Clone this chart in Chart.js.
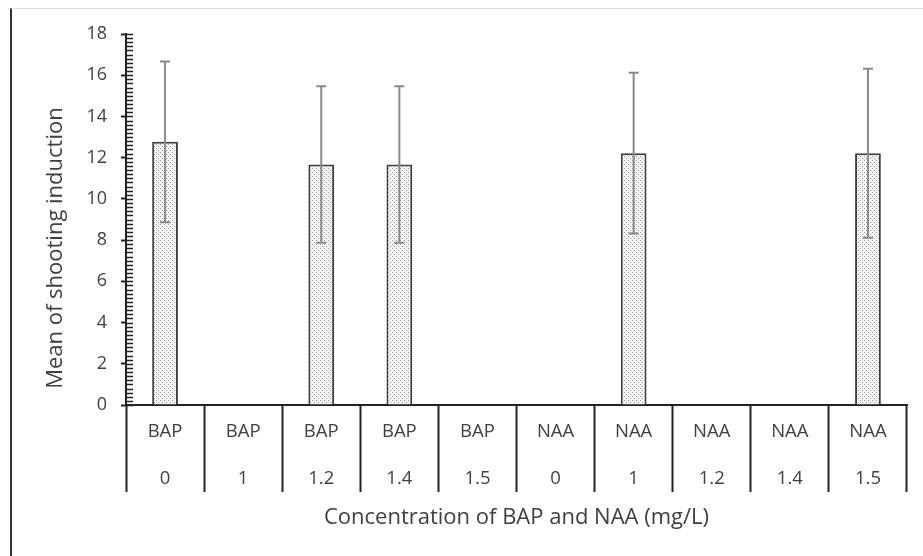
<!DOCTYPE html>
<html>
<head>
<meta charset="utf-8">
<script src="https://cdn.jsdelivr.net/npm/chart.js@4/dist/chart.umd.min.js"></script>
<style>
  html, body { margin: 0; padding: 0; background: #fff; }
  #frame {
    position: absolute; left: 10px; top: 8px; width: 913px; height: 548px;
    border-left: 2px solid #333; border-top: 1px solid #ddd; box-sizing: border-box;
  }
  #wrap { position: absolute; left: 0; top: 0; width: 923px; height: 556px; }
</style>
</head>
<body>
<div id="frame"></div>
<div id="wrap"><canvas id="chart" width="923" height="556"></canvas></div>
<script>
// Data
const hormones = ["BAP", "BAP", "BAP", "BAP", "BAP", "NAA", "NAA", "NAA", "NAA", "NAA"];
const concentrations = ["0", "1", "1.2", "1.4", "1.5", "0", "1", "1.2", "1.4", "1.5"];
const means = [12.77, 0, 11.67, 11.67, 0, 0, 12.22, 0, 0, 12.22];
const errors = [3.9, 0, 3.8, 3.8, 0, 0, 3.9, 0, 0, 4.1];
const yTicks = [0, 2, 4, 6, 8, 10, 12, 14, 16, 18];

const textColor = "#404040";
const fontFamily = "Open Sans";

// dotted fill like the Excel pattern
function makePattern() {
  const c = document.createElement("canvas");
  c.width = 4;
  c.height = 4;
  const p = c.getContext("2d");
  p.fillStyle = "#f2f2f2";
  p.fillRect(0, 0, 4, 4);
  p.fillStyle = "#9a9a9a";
  p.fillRect(0, 0, 1, 1);
  p.fillRect(2, 2, 1, 1);
  return p.createPattern(c, "repeat");
}

// Minor ticks on the y axis (inside)
const minorTicks = {
  id: "minorTicks",
  afterDraw(chart) {
    const { ctx } = chart;
    const y = chart.scales.y;
    ctx.save();
    ctx.strokeStyle = "#222";
    ctx.lineWidth = 1.5;
    ctx.beginPath();
    for (let i = 0; i <= 90; i++) {
      const py = Math.round(y.getPixelForValue(i * 0.2)) + 0.5;
      ctx.moveTo(y.right, py);
      ctx.lineTo(y.right + 7, py);
    }
    ctx.stroke();
    ctx.restore();
  },
};

// Error bars
const errorBars = {
  id: "errorBars",
  afterDatasetsDraw(chart) {
    const { ctx } = chart;
    const y = chart.scales.y;
    const meta = chart.getDatasetMeta(0);
    ctx.save();
    ctx.strokeStyle = "#8a8a8a";
    ctx.lineWidth = 2;
    meta.data.forEach((bar, i) => {
      if (!errors[i]) return;
      const top = y.getPixelForValue(means[i] + errors[i]);
      const bottom = y.getPixelForValue(means[i] - errors[i]);
      ctx.beginPath();
      ctx.moveTo(bar.x, top);
      ctx.lineTo(bar.x, bottom);
      ctx.moveTo(bar.x - 5, top);
      ctx.lineTo(bar.x + 5, top);
      ctx.moveTo(bar.x - 5, bottom);
      ctx.lineTo(bar.x + 5, bottom);
      ctx.stroke();
    });
    ctx.restore();
  },
};

new Chart(document.getElementById("chart"), {
  type: "bar",
  data: {
    labels: hormones.map((h, i) => [h, concentrations[i]]),
    datasets: [
      {
        data: means,
        backgroundColor: makePattern(),
        borderColor: "#404040",
        borderWidth: 2,
        borderSkipped: "start",
        categoryPercentage: 1,
        barPercentage: 0.33,
      },
    ],
  },
  options: {
    responsive: false,
    animation: false,
    layout: { padding: { left: 0, right: 16, top: 34, bottom: 0 } },
    plugins: { legend: { display: false }, tooltip: { enabled: false } },
    scales: {
      x: {
        afterFit(scale) {
          scale.height = 151;
        },
        grid: {
          offset: true,
          drawOnChartArea: false,
          tickLength: 87,
          tickColor: "#222",
          tickWidth: 2,
        },
        border: { color: "#222", width: 2 },
        ticks: {
          color: textColor,
          padding: -83,
          font: { family: fontFamily, size: 18.5, lineHeight: 2.5 },
        },
        title: {
          display: true,
          text: "Concentration of BAP and NAA (mg/L)",
          color: textColor,
          font: { family: fontFamily, size: 22 },
          padding: { top: 0, bottom: 25 },
        },
      },
      y: {
        min: 0,
        max: 18,
        afterFit(scale) {
          scale.width = 126;
        },
        afterBuildTicks(scale) {
          scale.ticks = yTicks.map((v) => ({ value: v }));
        },
        grid: {
          drawOnChartArea: false,
          tickLength: 5,
          tickColor: "#222",
          tickWidth: 2,
        },
        border: { color: "#222", width: 2 },
        ticks: {
          color: textColor,
          padding: 14,
          font: { family: fontFamily, size: 18 },
        },
        title: {
          display: true,
          // trailing spaces push the title down a little, like the original
          text: "Mean of shooting induction          ",
          color: textColor,
          font: { family: fontFamily, size: 22 },
          padding: { top: 43, bottom: 0 },
        },
      },
    },
  },
  plugins: [minorTicks, errorBars],
});
</script>
</body>
</html>
